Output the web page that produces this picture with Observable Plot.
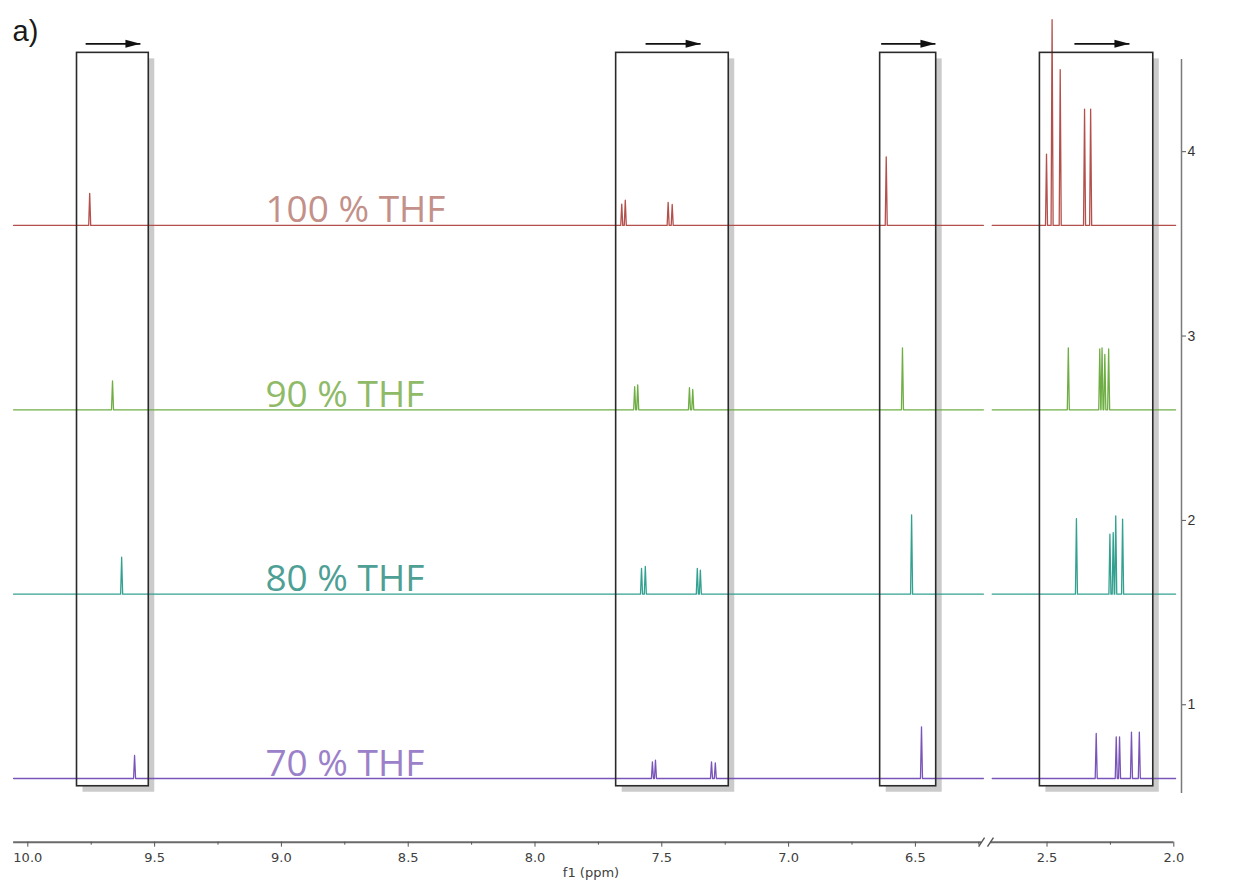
<!DOCTYPE html>
<html>
<head>
<meta charset="utf-8">
<script src="https://cdn.jsdelivr.net/npm/d3@7"></script>
<script src="https://cdn.jsdelivr.net/npm/@observablehq/plot@0.6"></script>
<style>
  html, body { margin: 0; padding: 0; background: #ffffff; }
  #chart svg { display: block; overflow: visible; }
</style>
</head>
<body>
<div id="chart"></div>
<script>
// Stacked 1H NMR spectra of the same compound in THF/water mixtures.
const samples = ["100 % THF", "90 % THF", "80 % THF", "70 % THF"];
const baselines = [3.6, 2.6, 1.6, 0.6];          // vertical offset of each trace
const lineColors = ["#b4504b", "#6fae45", "#33a190", "#7a55b9"];
const labelColors = ["#c3918a", "#8fba68", "#4e9f95", "#9b81c9"];

// Peak positions (ppm) and intensities for every trace
const peaks100 = [9.756, 7.658, 7.644, 7.475, 7.459, 6.615, 2.502, 2.480, 2.448, 2.352, 2.328];
const heights100 = [0.174, 0.116, 0.137, 0.125, 0.114, 0.372, 0.387, 1.116, 0.845, 0.631, 0.631];
const peaks90 = [9.666, 7.607, 7.595, 7.391, 7.378, 6.551, 2.416, 2.292, 2.283, 2.272, 2.257];
const heights90 = [0.157, 0.125, 0.135, 0.120, 0.110, 0.336, 0.336, 0.330, 0.335, 0.300, 0.330];
const peaks80 = [9.630, 7.580, 7.565, 7.360, 7.348, 6.515, 2.384, 2.252, 2.239, 2.229, 2.202];
const heights80 = [0.200, 0.140, 0.150, 0.140, 0.130, 0.430, 0.410, 0.325, 0.334, 0.425, 0.407];
const peaks70 = [9.579, 7.537, 7.525, 7.304, 7.289, 6.476, 2.306, 2.227, 2.214, 2.167, 2.136];
const heights70 = [0.125, 0.090, 0.100, 0.090, 0.085, 0.280, 0.244, 0.226, 0.226, 0.252, 0.252];

// Highlighted windows and the direction of the shift inside them (ppm)
const regionStarts = [9.806, 7.680, 6.639, 2.528];
const regionEnds = [9.523, 7.236, 6.418, 2.081];
const arrowStarts = [9.772, 7.564, 6.635, 2.392];
const arrowEnds = [9.556, 7.347, 6.421, 2.175];

// Axis ticks (ppm) and intensity ticks
const xTicks = [10.0, 9.5, 9.0, 8.5, 8.0, 7.5, 7.0, 6.5, 2.5, 2.0];
const xMinorTicks = [9.75, 9.25, 8.75, 8.25, 7.75, 7.25, 6.75, 6.25, 2.25];
const yTicks = [1, 2, 3, 4];

// Broken ppm axis: the aliphatic window is moved up against the aromatic one
const BREAK_SHIFT = 3.481;
const toAxis = (ppm) => (ppm > 4 ? ppm : ppm + BREAK_SHIFT);
const fromAxis = (t) => (t > 6.21 ? t : t - BREAK_SHIFT);

const traceSegments = [[10.056, 6.232], [2.716, 1.993]];
const axisSegments = [[10.056, 6.239], [2.723, 2.0]];
const breakMarks = [6.239, 2.723];

const xDomain = [10.1077, 5.4507];
const yDomain = [0.2545, 4.5];
const yAxisSpan = [0.518, 4.5];
const boxSpan = [0.558, 4.536];
const arrowLevel = 4.585;
const labelStart = 9.063;
const HALF_WIDTH = 0.004; // half width of a peak foot, ppm

const peakLists = [peaks100, peaks90, peaks80, peaks70];
const heightLists = [heights100, heights90, heights80, heights70];

// Line vertices: flat baseline with a narrow spike for every peak
const traceRows = [];
samples.forEach((name, k) => {
  const base = baselines[k];
  const pk = peakLists[k].map((p, i) => ({p, h: heightLists[k][i]}));
  traceSegments.forEach(([a, b], s) => {
    const key = `${name}-${s}`;
    const inside = pk.filter((d) => d.p <= a && d.p >= b).sort((u, v) => v.p - u.p);
    traceRows.push({sample: name, key, ppm: a, y: base});
    for (const d of inside) {
      traceRows.push({sample: name, key, ppm: d.p + HALF_WIDTH, y: base});
      traceRows.push({sample: name, key, ppm: d.p, y: base + d.h});
      traceRows.push({sample: name, key, ppm: d.p - HALF_WIDTH, y: base});
    }
    traceRows.push({sample: name, key, ppm: b, y: base});
  });
});

const regions = regionStarts.map((a, i) => ({a, b: regionEnds[i]}));
const arrows = arrowStarts.map((a, i) => ({a, b: arrowEnds[i]}));
const labels = samples.map((name, i) => ({name, base: baselines[i], color: labelColors[i]}));

// Filled arrow head pointing right, tip at the anchor point
const arrowHead = {
  draw(context) {
    context.moveTo(0, 0);
    context.lineTo(-15, -4);
    context.lineTo(-15, 4);
    context.closePath();
  }
};

const pxX = (xDomain[0] - xDomain[1]) / 1181;     // ppm per pixel
const pxY = (yDomain[1] - yDomain[0]) / 782.7;    // intensity per pixel

const chart = Plot.plot({
  width: 1251,
  height: 886,
  marginLeft: 0,
  marginRight: 70,
  marginTop: 59,
  marginBottom: 44.3,
  x: {domain: xDomain},
  y: {domain: yDomain},
  color: {domain: samples, range: lineColors},
  style: {background: "#ffffff"},
  marks: [
    // box shadows, then opaque box bodies
    Plot.rect(regions, {
      x1: (d) => toAxis(d.a), x2: (d) => toAxis(d.b),
      y1: boxSpan[0], y2: boxSpan[1],
      fill: "#cbcbcb", dx: 6, dy: 6
    }),
    Plot.rect(regions, {
      x1: (d) => toAxis(d.a), x2: (d) => toAxis(d.b),
      y1: boxSpan[0], y2: boxSpan[1],
      fill: "#ffffff"
    }),
    // spectra
    Plot.line(traceRows, {
      x: (d) => toAxis(d.ppm), y: "y", z: "key",
      stroke: "sample", strokeWidth: 1.3, curve: "linear"
    }),
    // box outlines
    Plot.rect(regions, {
      x1: (d) => toAxis(d.a), x2: (d) => toAxis(d.b),
      y1: boxSpan[0], y2: boxSpan[1],
      fill: "none", stroke: "#2a2a2a", strokeWidth: 1.6
    }),
    // shift arrows
    Plot.link(arrows, {
      x1: (d) => toAxis(d.a), x2: (d) => toAxis(d.b),
      y1: arrowLevel, y2: arrowLevel,
      stroke: "#111111", strokeWidth: 1.8
    }),
    Plot.dot(arrows, {
      x: (d) => toAxis(d.b), y: arrowLevel,
      symbol: arrowHead, fill: "#111111", stroke: "none"
    }),
    // sample labels
    Plot.text(labels, {
      x: labelStart, y: "base", text: "name",
      fill: (d) => d.color,
      textAnchor: "start", lineAnchor: "bottom", dy: -3,
      fontSize: 37, fontFamily: "'Open Sans', 'Noto Sans', sans-serif"
    }),
    // ppm axis line (broken) with break marks
    Plot.ruleY(axisSegments, {
      y: yDomain[0], x1: (d) => toAxis(d[0]), x2: (d) => toAxis(d[1]),
      stroke: "#6a6a6a", strokeWidth: 2
    }),
    Plot.link(breakMarks, {
      x1: (d) => toAxis(d) + 3 * pxX, x2: (d) => toAxis(d) - 3 * pxX,
      y1: yDomain[0] - 4.5 * pxY, y2: yDomain[0] + 4.5 * pxY,
      stroke: "#555555", strokeWidth: 1.4
    }),
    Plot.axisX({
      anchor: "bottom",
      ticks: xMinorTicks.map(toAxis),
      tickSize: 3,
      tickFormat: () => "",
      stroke: "#555555",
      label: null
    }),
    Plot.axisX({
      anchor: "bottom",
      ticks: xTicks.map(toAxis),
      tickFormat: (t) => fromAxis(t).toFixed(1),
      tickSize: 5,
      tickPadding: 6,
      stroke: "#555555",
      fill: "#404040",
      fontSize: 13,
      fontFamily: "'DejaVu Sans', sans-serif",
      label: null
    }),
    Plot.text(["f1 (ppm)"], {
      frameAnchor: "bottom", dy: 35, text: (d) => d,
      fill: "#404040", fontSize: 13, fontFamily: "'DejaVu Sans', sans-serif"
    }),
    // intensity axis on the right
    Plot.ruleX([xDomain[1]], {
      y1: yAxisSpan[0], y2: yAxisSpan[1],
      stroke: "#7a7a7a", strokeWidth: 1.5
    }),
    Plot.axisY({
      anchor: "right",
      ticks: yTicks,
      tickFormat: (d) => String(d),
      tickSize: 4,
      tickPadding: 2,
      stroke: "#555555",
      fill: "#333333",
      fontSize: 14,
      fontFamily: "'Liberation Sans', Arial, sans-serif",
      label: null
    }),
    // panel tag
    Plot.text(["a)"], {
      frameAnchor: "top-left", dx: 12, dy: -19, text: (d) => d,
      textAnchor: "start", lineAnchor: "bottom",
      fill: "#1a1a1a", fontSize: 29, fontFamily: "'Liberation Sans', Arial, sans-serif"
    })
  ]
});

document.getElementById("chart").append(chart);
</script>
</body>
</html>
